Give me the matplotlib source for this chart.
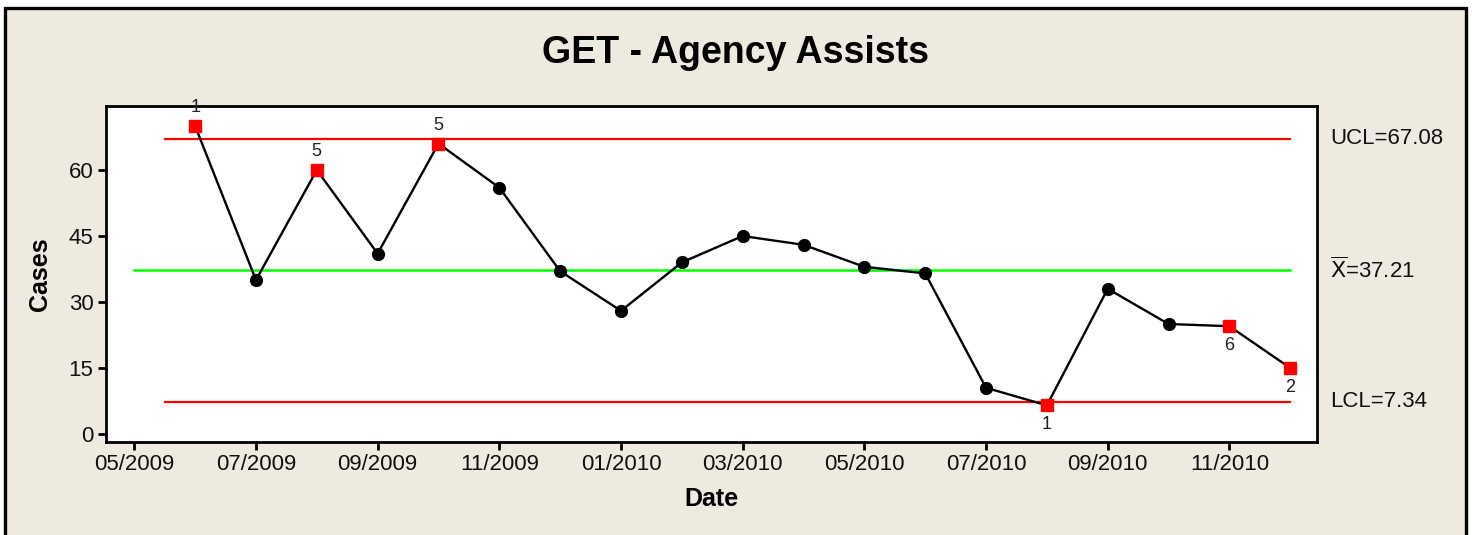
import matplotlib
matplotlib.use("Agg")
import matplotlib.pyplot as plt
from matplotlib.patches import Rectangle

plt.rcParams['font.family'] = ['Liberation Sans', 'DejaVu Sans']

# ---- data ----
months = ["06/2009", "07/2009", "08/2009", "09/2009", "10/2009", "11/2009", "12/2009",
          "01/2010", "02/2010", "03/2010", "04/2010", "05/2010", "06/2010", "07/2010",
          "08/2010", "09/2010", "10/2010", "11/2010", "12/2010"]
cases = [70, 35, 60, 41, 66, 56, 37, 28, 39, 45, 43, 38, 36.5, 10.5, 6.5, 33, 25, 24.5, 15]
# flagged points (index -> test number, label above/below)
flag_idx = [0, 2, 4, 14, 17, 18]
flag_test = ["1", "5", "5", "1", "6", "2"]
flag_above = [True, True, True, False, False, False]

tick_labels = ["05/2009", "07/2009", "09/2009", "11/2009", "01/2010", "03/2010",
               "05/2010", "07/2010", "09/2010", "11/2010"]
ucl = 67.08
center = 37.21
lcl = 7.34
y_ticks = [0, 15, 30, 45, 60]

# x positions: month index with 05/2009 = 0
x = list(range(1, len(months) + 1))
tick_pos = list(range(0, 2 * len(tick_labels), 2))

W, H = 1472, 535
fig = plt.figure(figsize=(W / 100, H / 100), dpi=100, facecolor="white")
bg = "#EEEAE0"
fig.patches.append(Rectangle((5 / W, -0.05), (1466 - 5) / W, (535 - 8) / H + 0.05,
                             transform=fig.transFigure, facecolor=bg,
                             edgecolor="black", linewidth=2.4, zorder=-10))

ax = fig.add_axes([106 / W, (535 - 442) / H, (1317 - 106) / W, (442 - 106) / H])
ax.set_zorder(5)
ax.set_facecolor("white")
ax.set_xlim(-0.465, 19.44)
ax.set_ylim(-1.82, 74.55)

# control lines
ax.plot([0.5, 19], [ucl, ucl], color="#FF0000", lw=1.6, zorder=2)
ax.plot([0.5, 19], [lcl, lcl], color="#FF0000", lw=1.6, zorder=2)
ax.plot([0, 19], [center, center], color="#00FF00", lw=1.8, zorder=2)

# data line
ax.plot(x, cases, color="black", lw=1.7, zorder=3)
normal = [i for i in range(len(cases)) if i not in flag_idx]
ax.plot([x[i] for i in normal], [cases[i] for i in normal], "o", color="black",
        markersize=8.5, zorder=4, linestyle="none")
ax.plot([x[i] for i in flag_idx], [cases[i] for i in flag_idx], "s", color="#FF0000",
        markersize=8.5, zorder=4, linestyle="none")

for i, t, up in zip(flag_idx, flag_test, flag_above):
    ax.annotate(t, (x[i], cases[i]), xytext=(0, 13 if up else -14), textcoords="offset points",
                ha="center", va="center", fontsize=13, color="#222222", annotation_clip=False,
                zorder=5)

ax.set_xticks(tick_pos)
ax.set_xticklabels(tick_labels)
ax.set_yticks(y_ticks)
ax.tick_params(axis="both", labelsize=16, length=6, width=2, color="black",
               labelcolor="#111111", direction="out", pad=3)
for side in ["top", "right", "left", "bottom"]:
    ax.spines[side].set_linewidth(2)
    ax.spines[side].set_color("black")

ax.set_xlabel("Date", fontsize=18, fontweight="bold", labelpad=8)
ax.set_ylabel("Cases", fontsize=18, fontweight="bold", labelpad=12)

fig.text(0.5, 1 - 53 / H, "GET - Agency Assists", ha="center", va="center",
         fontsize=27, fontweight="bold")

# right-side limit labels
trans = ax.get_yaxis_transform()
ax.text(1.011, ucl, "UCL=67.08", transform=trans, ha="left", va="center", fontsize=16,
        color="#111111", clip_on=False)
ax.text(1.011, center, r"$\overline{\mathrm{X}}$=37.21", transform=trans, ha="left",
        va="center", fontsize=16, color="#111111", clip_on=False)
ax.text(1.011, lcl, "LCL=7.34", transform=trans, ha="left", va="center", fontsize=16,
        color="#111111", clip_on=False)

fig.savefig("out.png", dpi=100, facecolor=fig.get_facecolor())
